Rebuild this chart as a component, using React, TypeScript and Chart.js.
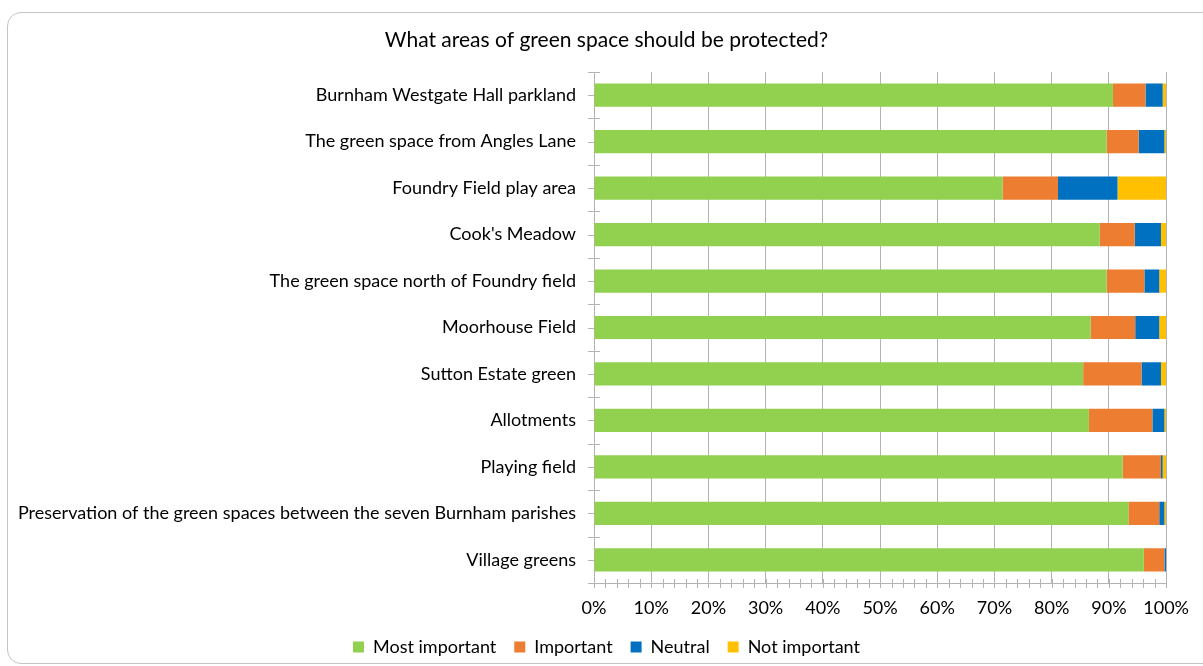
import React, { useEffect, useRef } from 'react';
import { Chart, registerables } from 'chart.js';

Chart.register(...registerables);

const categories = [
  'Burnham Westgate Hall parkland',
  'The green space from Angles Lane',
  'Foundry Field play area',
  "Cook's Meadow",
  'The green space north of Foundry field',
  'Moorhouse Field',
  'Sutton Estate green',
  'Allotments',
  'Playing field',
  'Preservation of the green spaces between the seven Burnham parishes',
  'Village greens',
];

const mostImportant = [90.7, 89.6, 71.4, 88.4, 89.6, 86.8, 85.5, 86.5, 92.4, 93.4, 96.1];
const important = [5.7, 5.6, 9.7, 6.1, 6.6, 7.8, 10.2, 11.1, 6.7, 5.4, 3.6];
const neutral = [3.0, 4.5, 10.4, 4.6, 2.6, 4.2, 3.4, 2.1, 0.3, 0.9, 0.3];
const notImportant = [0.6, 0.3, 8.5, 0.9, 1.2, 1.2, 0.9, 0.3, 0.6, 0.3, 0];

const seriesNames = ['Most important', 'Important', 'Neutral', 'Not important'];
const seriesColors = ['#92d050', '#ed7d31', '#0070c0', '#ffc000'];

const FONT = 'Lato, "Open Sans", sans-serif';
const AXIS_GREY = '#b3b3b3';

// small cross ticks like the spreadsheet axes
const axisTicks = {
  id: 'axisTicks',
  afterDatasetsDraw(chart: any) {
    const { ctx, chartArea } = chart;
    const x = chart.scales.x;
    const y = chart.scales.y;
    ctx.save();
    ctx.strokeStyle = AXIS_GREY;
    ctx.lineWidth = 1;
    ctx.beginPath();
    for (let v = 0; v <= 100; v += 2) {
      const px = Math.round(x.getPixelForValue(v)) + 0.5;
      ctx.moveTo(px, chartArea.bottom - 4);
      ctx.lineTo(px, chartArea.bottom + 5);
    }
    const n = categories.length;
    const band = (chartArea.bottom - chartArea.top) / n;
    for (let i = 0; i <= n; i++) {
      const py = Math.round(chartArea.top + i * band) + 0.5;
      ctx.moveTo(chartArea.left - 6, py);
      ctx.lineTo(chartArea.left + 6, py);
    }
    for (let i = 0; i < n; i++) {
      const py = Math.round(y.getPixelForValue(i)) + 0.5;
      ctx.moveTo(chartArea.left - 6, py);
      ctx.lineTo(chartArea.left, py);
    }
    ctx.stroke();
    ctx.restore();
  },
};

export default function App() {
  const canvasRef = useRef<HTMLCanvasElement>(null);
  const chartRef = useRef<Chart | null>(null);

  useEffect(() => {
    const canvas = canvasRef.current;
    if (!canvas) return;
    if (chartRef.current) chartRef.current.destroy();

    const values = [mostImportant, important, neutral, notImportant];

    chartRef.current = new Chart(canvas, {
      type: 'bar',
      data: {
        labels: categories,
        datasets: values.map((data, i) => ({
          label: seriesNames[i],
          data,
          backgroundColor: seriesColors[i],
          borderWidth: 0,
          barPercentage: 0.5,
          categoryPercentage: 1,
        })),
      },
      options: {
        indexAxis: 'y',
        animation: false,
        responsive: false,
        maintainAspectRatio: false,
        layout: { padding: { left: 14, right: 4, top: 0, bottom: 0 } },
        plugins: {
          title: {
            display: true,
            text: 'What areas of green space should be protected?',
            color: '#000',
            font: { family: FONT, size: 21, weight: 'normal' },
            padding: { top: 27.5, bottom: 19.3 },
          },
          legend: {
            display: true,
            position: 'bottom',
            labels: {
              color: '#000',
              font: { family: FONT, size: 18 },
              boxWidth: 11,
              boxHeight: 11,
              padding: 18,
            },
          },
          tooltip: { enabled: false },
        },
        scales: {
          x: {
            stacked: true,
            min: 0,
            max: 100,
            grid: { color: AXIS_GREY, drawTicks: false },
            border: { color: AXIS_GREY },
            ticks: {
              stepSize: 10,
              padding: 14,
              color: '#000',
              font: { family: FONT, size: 18 },
              callback: (v: any) => `${v}%`,
            },
            afterFit: (s: any) => {
              s.height = 37;
            },
          },
          y: {
            stacked: true,
            grid: { display: false, drawTicks: false },
            border: { color: AXIS_GREY },
            ticks: {
              padding: 18,
              color: '#000',
              font: { family: FONT, size: 18 },
            },
            afterFit: (s: any) => {
              s.width = 580;
            },
          },
          yR: {
            type: 'linear',
            position: 'right',
            display: true,
            grid: { display: false },
            border: { display: false },
            ticks: { display: false },
            afterFit: (s: any) => {
              s.width = 29;
            },
          },
        },
      },
      plugins: [axisTicks],
    });

    return () => {
      if (chartRef.current) {
        chartRef.current.destroy();
        chartRef.current = null;
      }
    };
  }, []);

  return (
    <div
      style={{
        position: 'fixed',
        left: 0,
        top: 0,
        width: 1203,
        height: 666,
        overflow: 'hidden',
        background: '#fff',
      }}
    >
      <div
        style={{
          position: 'absolute',
          left: 7,
          top: 12,
          width: 1215,
          height: 650,
          border: '1px solid #c4c4c4',
          borderRadius: 14,
        }}
      />
      <canvas ref={canvasRef} width={1203} height={666} style={{ position: 'absolute', left: 0, top: 0 }} />
    </div>
  );
}
